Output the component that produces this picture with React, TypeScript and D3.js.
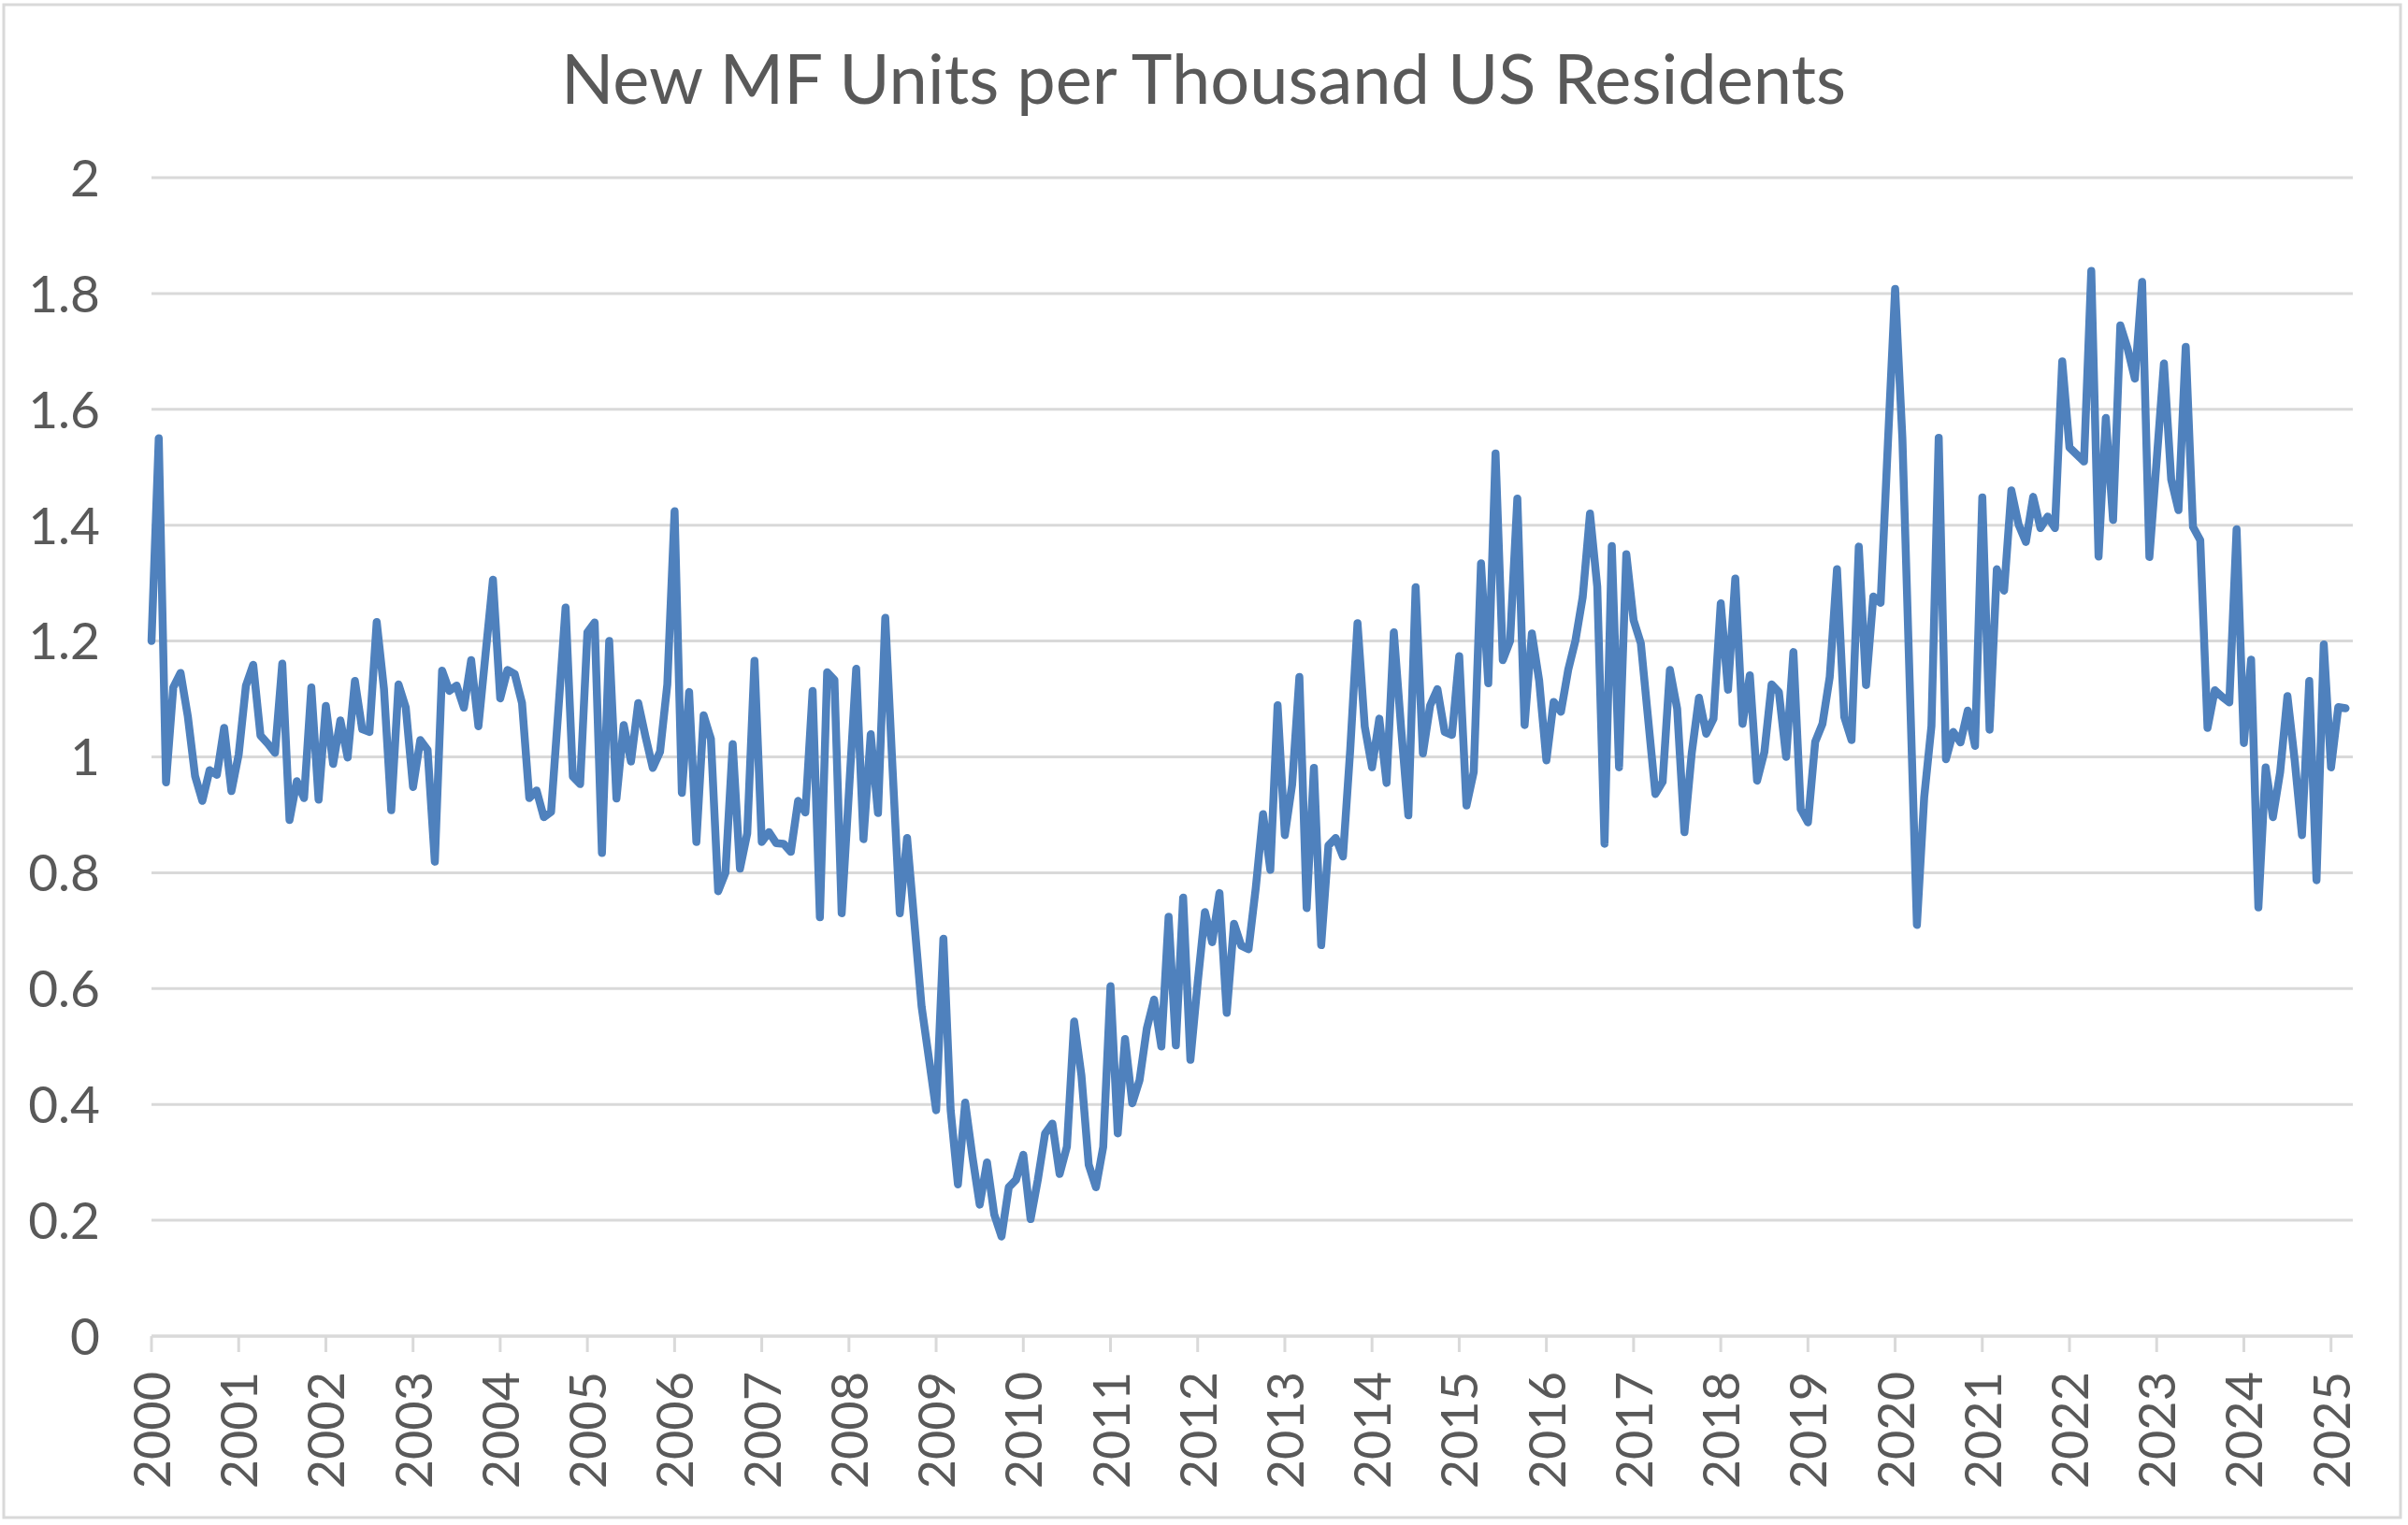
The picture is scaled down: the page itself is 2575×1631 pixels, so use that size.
import React from "react";
import * as d3 from "d3";

// monthly values, Jan 2000 onwards
const values2000s = [
  1.2, 1.55, 0.956, 1.12, 1.145, 1.07, 0.967, 0.924, 0.977, 0.969, 1.05, 0.941,
  1.004, 1.123, 1.159, 1.037, 1.023, 1.007, 1.161, 0.891, 0.958, 0.929, 1.12, 0.926,
  1.088, 0.988, 1.063, 0.999, 1.131, 1.048, 1.043, 1.233, 1.117, 0.908, 1.125, 1.085,
  0.948, 1.029, 1.012, 0.819, 1.149, 1.114, 1.123, 1.085, 1.167, 1.053, 1.18, 1.306,
  1.101, 1.15, 1.143, 1.093, 0.929, 0.942, 0.896, 0.905, 1.08, 1.258, 0.966, 0.953,
  1.215, 1.232, 0.834, 1.2, 0.928, 1.055, 0.992, 1.093, 1.035, 0.981, 1.009, 1.125,
  1.424, 0.938, 1.112, 0.853, 1.072, 1.031, 0.768, 0.8, 1.022, 0.807, 0.868, 1.166,
  0.853, 0.87, 0.851, 0.85, 0.836, 0.924, 0.904, 1.114, 0.723, 1.146, 1.133, 0.73,
  0.94, 1.152, 0.858, 1.039, 0.903, 1.24, 0.98, 0.73, 0.86, 0.715, 0.569, 0.48,
  0.39, 0.686, 0.39, 0.262, 0.403, 0.31, 0.227, 0.3, 0.21, 0.172, 0.257, 0.27,
];

const values2010s = [
  0.313, 0.202, 0.27, 0.35, 0.367, 0.28, 0.327, 0.543, 0.45, 0.296, 0.257, 0.327,
  0.604, 0.35, 0.513, 0.402, 0.442, 0.531, 0.581, 0.5, 0.724, 0.502, 0.757, 0.477,
  0.61, 0.732, 0.68, 0.765, 0.558, 0.712, 0.674, 0.668, 0.774, 0.901, 0.805, 1.089,
  0.865, 0.952, 1.138, 0.739, 0.981, 0.675, 0.847, 0.86, 0.828, 1.013, 1.231, 1.052,
  0.982, 1.066, 0.955, 1.215, 1.05, 0.899, 1.293, 1.006, 1.089, 1.117, 1.043, 1.038,
  1.174, 0.916, 0.974, 1.334, 1.127, 1.524, 1.167, 1.2, 1.446, 1.055, 1.213, 1.132,
  0.994, 1.095, 1.078, 1.15, 1.201, 1.276, 1.42, 1.294, 0.85, 1.364, 0.982, 1.35,
  1.236, 1.196, 1.066, 0.936, 0.957, 1.15, 1.083, 0.87, 1.006, 1.102, 1.04, 1.066,
  1.265, 1.116, 1.308, 1.057, 1.141, 0.959, 1.008, 1.125, 1.112, 1.0, 1.181, 0.91,
  0.887, 1.026, 1.057, 1.138, 1.324, 1.069, 1.029, 1.363, 1.124, 1.277, 1.266, 1.54,
];

const values2020s = [
  1.808, 1.55, 1.13, 0.71, 0.93, 1.053, 1.551, 0.996, 1.043, 1.025, 1.08, 1.019,
  1.448, 1.047, 1.324, 1.287, 1.46, 1.401, 1.371, 1.449, 1.395, 1.415, 1.395, 1.683,
  1.534, 1.522, 1.51, 1.839, 1.346, 1.585, 1.409, 1.745, 1.705, 1.653, 1.82, 1.345,
  1.512, 1.679, 1.479, 1.426, 1.708, 1.397, 1.374, 1.05, 1.115, 1.104, 1.094, 1.393,
  1.024, 1.168, 0.74, 0.982, 0.896, 0.974, 1.105, 0.994, 0.865, 1.131, 0.787, 1.194,
  0.982, 1.086, 1.084,
];

const yearLabels = d3.range(2000, 2026).map(String);
const yTicks = [0, 0.2, 0.4, 0.6, 0.8, 1, 1.2, 1.4, 1.6, 1.8, 2];
const title = "New MF Units per Thousand US Residents";

const W = 2575;
const H = 1631;
const FONT = "Lato, 'Open Sans', sans-serif";
const TEXT = "#595959";
const GRID = "#d9d9d9";
const LINE = "#4f81bd";

export default function App() {
  const series = [...values2000s, ...values2010s, ...values2020s];

  // one extra month of room after the last point, like a date axis
  const x = d3.scaleLinear().domain([0, series.length]).range([162, 2516]);
  const y = d3.scaleLinear().domain([0, 2]).range([1429, 190]);

  const line = d3
    .line<number>()
    .x((_, i) => x(i))
    .y((d) => y(d));

  return (
    <svg
      width={W}
      height={H}
      style={{ position: "absolute", left: 0, top: 0, background: "#fff" }}
      fontFamily={FONT}
    >
      <rect x={4} y={5} width={2563} height={1618} fill="#fff" stroke={GRID} strokeWidth={3} />

      <text x={1287} y={111} textAnchor="middle" fontSize={74} fill={TEXT}>
        {title}
      </text>

      {yTicks.map((t) => (
        <g key={t}>
          <line
            x1={x(0)}
            x2={x(series.length)}
            y1={y(t)}
            y2={y(t)}
            stroke={GRID}
            strokeWidth={t === 0 ? 3.5 : 3}
          />
          <text
            x={107}
            y={y(t)}
            dy="0.36em"
            textAnchor="end"
            fontSize={55}
            fill={TEXT}
          >
            {d3.format("~g")(t)}
          </text>
        </g>
      ))}

      {yearLabels.map((lab, i) => {
        const tx = x(i * 12);
        return (
          <g key={lab}>
            <line x1={tx} x2={tx} y1={y(0)} y2={y(0) + 17} stroke={GRID} strokeWidth={3} />
            <text
              transform={`translate(${tx + 20},1467) rotate(-90)`}
              textAnchor="end"
              fontSize={54}
              fill={TEXT}
            >
              {lab}
            </text>
          </g>
        );
      })}

      <path
        d={line(series) ?? ""}
        fill="none"
        stroke={LINE}
        strokeWidth={8.5}
        strokeLinejoin="round"
        strokeLinecap="round"
      />
    </svg>
  );
}
